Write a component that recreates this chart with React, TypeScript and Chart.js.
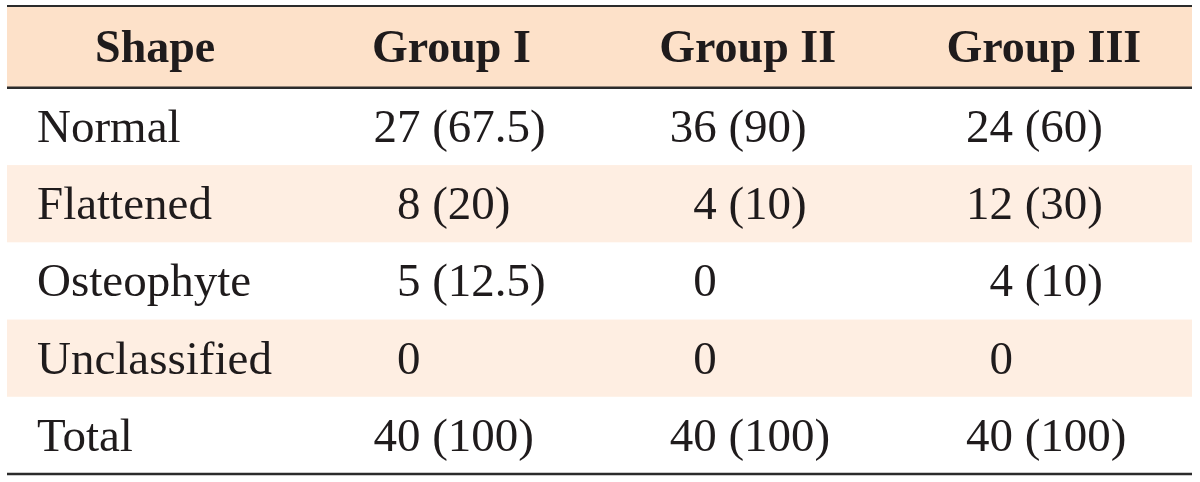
import React, { useEffect, useRef } from "react";
import { Chart, registerables } from "chart.js";

Chart.register(...registerables);

// ---- Data ----
const columnHeaders = ["Shape", "Group I", "Group II", "Group III"];
const rowLabels = ["Normal", "Flattened", "Osteophyte", "Unclassified", "Total"];
const groupICounts = [27, 8, 5, 0, 40];
const groupIPercents: (string | null)[] = ["67.5", "20", "12.5", null, "100"];
const groupIICounts = [36, 4, 0, 0, 40];
const groupIIPercents: (string | null)[] = ["90", "10", null, null, "100"];
const groupIIICounts = [24, 12, 4, 0, 40];
const groupIIIPercents: (string | null)[] = ["60", "30", "10", null, "100"];
const shadedRows = [false, true, false, true, false];

const groupCounts = [groupICounts, groupIICounts, groupIIICounts];
const groupPercents = [groupIPercents, groupIIPercents, groupIIIPercents];

// ---- Style ----
const TEXT = "#1f1b1c";
const LINE = "#2b2b2b";
const HEADER_BG = "#fde1c9";
const STRIPE_BG = "#feeee2";
const FONT_FAMILY = "'Liberation Serif', 'Times New Roman', serif";
const BODY_SIZE = 47;
const HEAD_SIZE = 46;

function formatCell(count: number, pct: string | null): string {
  const c = String(count).padStart(2, "\u2007");
  return pct ? `${c} (${pct})` : c;
}

const tablePlugin = {
  id: "tableCells",
  beforeDatasetsDraw(chart: any) {
    const { ctx, scales } = chart;
    const x = scales.x;
    const y = scales.y;
    const left = x.getPixelForValue(-0.5);
    const right = x.getPixelForValue(3.5);
    const width = right - left;
    ctx.save();
    const hTop = y.getPixelForValue(y.min);
    const hBot = y.getPixelForValue(0.5);
    ctx.fillStyle = HEADER_BG;
    ctx.fillRect(left, hTop, width, hBot - hTop);
    shadedRows.forEach((s, i) => {
      if (!s) return;
      const r = i + 1;
      const t = y.getPixelForValue(r - 0.5);
      const b = y.getPixelForValue(r + 0.5);
      ctx.fillStyle = STRIPE_BG;
      ctx.fillRect(left, t, width, b - t);
    });
    ctx.strokeStyle = LINE;
    ctx.lineWidth = 2;
    ctx.beginPath();
    ctx.moveTo(left, hTop);
    ctx.lineTo(right, hTop);
    ctx.stroke();
    ctx.lineWidth = 2.5;
    ctx.beginPath();
    ctx.moveTo(left, hBot);
    ctx.lineTo(right, hBot);
    ctx.stroke();
    const bot = y.getPixelForValue(rowLabels.length + 0.5);
    ctx.beginPath();
    ctx.moveTo(left, bot);
    ctx.lineTo(right, bot);
    ctx.stroke();
    ctx.restore();
  },
  afterDatasetsDraw(chart: any) {
    const { ctx, scales } = chart;
    const x = scales.x;
    const y = scales.y;
    const left = x.getPixelForValue(-0.5);
    ctx.save();
    ctx.fillStyle = TEXT;
    ctx.textBaseline = "alphabetic";
    ctx.font = `bold ${HEAD_SIZE}px ${FONT_FAMILY}`;
    ctx.textAlign = "center";
    const hCenter = (y.getPixelForValue(y.min) + y.getPixelForValue(0.5)) / 2;
    columnHeaders.forEach((h, i) => {
      ctx.fillText(h, x.getPixelForValue(i), hCenter + HEAD_SIZE * 0.331);
    });
    ctx.font = `${BODY_SIZE}px ${FONT_FAMILY}`;
    ctx.textAlign = "left";
    rowLabels.forEach((label, i) => {
      const r = i + 1;
      const base = y.getPixelForValue(r) + BODY_SIZE * 0.331;
      ctx.fillText(label, left + 30, base);
      groupCounts.forEach((counts, g) => {
        const txt = formatCell(counts[i], groupPercents[g][i]);
        ctx.fillText(txt, x.getPixelForValue(g + 1) - 78, base);
      });
    });
    ctx.restore();
  },
};

export default function App() {
  const canvasRef = useRef<HTMLCanvasElement | null>(null);

  useEffect(() => {
    if (!canvasRef.current) return;
    const chart = new Chart(canvasRef.current, {
      type: "scatter",
      data: { datasets: [{ data: [] }] },
      options: {
        animation: false,
        responsive: false,
        layout: { padding: { left: 7, right: 8, top: 6, bottom: 8 } },
        plugins: { legend: { display: false }, tooltip: { enabled: false } },
        events: [],
        scales: {
          x: { type: "linear", min: -0.5, max: 3.5, display: false },
          y: { type: "linear", min: -0.56, max: 5.5, reverse: true, display: false },
        },
      },
      plugins: [tablePlugin],
    });
    return () => chart.destroy();
  }, []);

  return (
    <div style={{ position: "absolute", left: 0, top: 0, width: 1200, height: 482, background: "#ffffff" }}>
      <canvas ref={canvasRef} width={1200} height={482} style={{ display: "block" }} />
    </div>
  );
}
